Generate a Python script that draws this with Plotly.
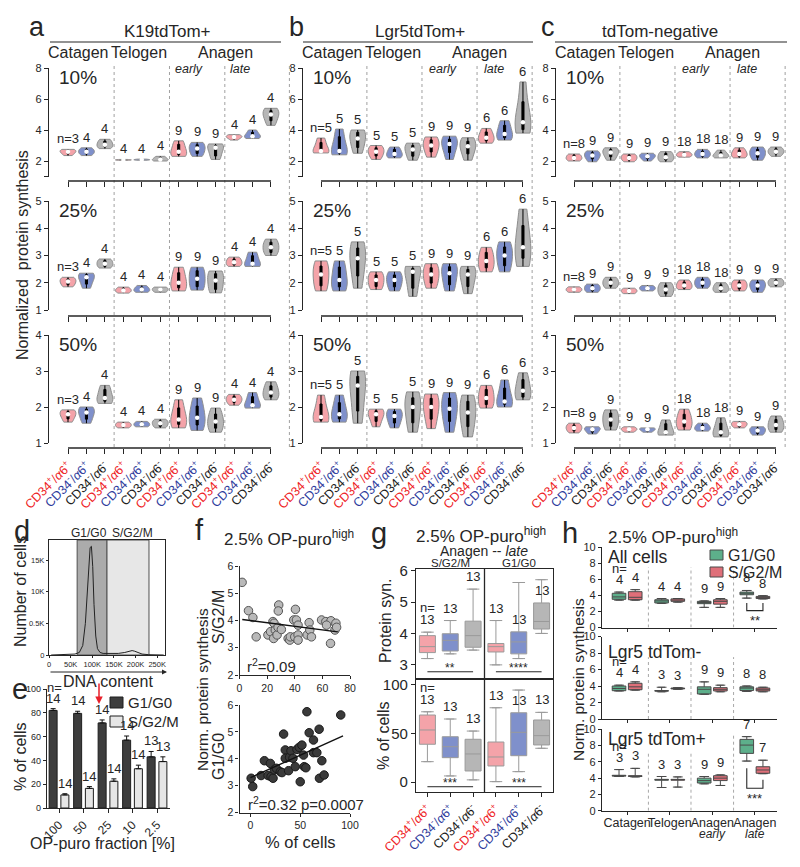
import plotly.graph_objects as go
import numpy as np

W, H = 800, 867
OFF = 8                      # page body margin of the html page
FW, FH = W - OFF, H - OFF    # figure size
FONT = "Liberation Sans, Arial, Helvetica, sans-serif"
INK = "#262626"

# ======================= DATA =======================
# Panels a-c: per violin values [min, q1, median, q3, max]
cell_labels = ["CD34+/a6+", "CD34-/a6+", "CD34-/a6-"] * 4
stage_names = ["Catagen", "Telogen", "Anagen early", "Anagen late"]

k19_10 = [[2.35, 2.5, 2.6, 2.68, 2.75], [2.35, 2.5, 2.6, 2.72, 2.85], [2.8, 2.95, 3.05, 3.25, 3.4],
          [2.04, 2.06, 2.07, 2.08, 2.1], [2.05, 2.07, 2.08, 2.1, 2.12], [2.0, 2.05, 2.1, 2.2, 2.3],
          [2.3, 2.45, 2.6, 3.0, 3.3], [2.3, 2.55, 2.8, 3.0, 3.2], [2.1, 2.4, 2.85, 2.95, 3.1],
          [3.35, 3.5, 3.55, 3.62, 3.7], [3.45, 3.55, 3.6, 3.8, 4.0], [4.3, 4.7, 5.0, 5.2, 5.4]]
k19_25 = [[1.85, 1.95, 2.05, 2.12, 2.2], [1.8, 2.0, 2.2, 2.28, 2.35], [2.54, 2.62, 2.7, 2.8, 2.87],
          [1.62, 1.68, 1.72, 1.78, 1.84], [1.65, 1.7, 1.75, 1.82, 1.9], [1.65, 1.7, 1.75, 1.8, 1.84],
          [1.7, 1.85, 2.0, 2.3, 2.57], [1.73, 1.9, 2.15, 2.4, 2.57], [1.63, 1.8, 2.08, 2.3, 2.43],
          [2.6, 2.68, 2.75, 2.85, 2.94], [2.6, 2.65, 2.7, 2.95, 3.12], [3.0, 3.15, 3.3, 3.45, 3.6]]
k19_50 = [[1.58, 1.7, 1.8, 1.86, 1.92], [1.55, 1.7, 1.85, 1.92, 2.0], [2.1, 2.18, 2.25, 2.45, 2.6],
          [1.42, 1.46, 1.5, 1.54, 1.58], [1.45, 1.48, 1.52, 1.56, 1.6], [1.42, 1.48, 1.55, 1.6, 1.66],
          [1.42, 1.55, 1.65, 1.9, 2.2], [1.35, 1.55, 1.7, 1.95, 2.25], [1.3, 1.45, 1.6, 1.75, 1.97],
          [2.05, 2.15, 2.2, 2.28, 2.35], [1.97, 2.02, 2.05, 2.25, 2.4], [2.2, 2.3, 2.4, 2.55, 2.7]]
k19_n = [3, 4, 4, 4, 4, 4, 9, 9, 9, 4, 4, 4]

lgr5_10 = [[2.52, 2.6, 2.65, 3.1, 3.48], [2.4, 2.55, 2.65, 3.4, 4.06], [2.5, 3.0, 3.45, 3.8, 4.0],
           [2.1, 2.4, 2.6, 2.8, 3.0], [2.2, 2.35, 2.45, 2.7, 2.9], [2.05, 2.4, 2.75, 2.95, 3.15],
           [2.25, 2.7, 3.0, 3.3, 3.55], [2.1, 2.7, 3.1, 3.35, 3.6], [2.05, 2.6, 2.95, 3.2, 3.5],
           [3.15, 3.35, 3.5, 3.8, 4.1], [3.35, 3.55, 3.75, 4.2, 4.6], [3.8, 4.1, 4.5, 5.4, 7.1]]
lgr5_25 = [[1.7, 1.95, 2.3, 2.55, 2.8], [1.7, 1.9, 2.1, 2.5, 2.8], [1.8, 2.4, 2.9, 3.2, 3.5],
           [1.75, 1.9, 2.1, 2.25, 2.4], [1.7, 1.9, 2.1, 2.25, 2.4], [1.5, 1.9, 2.4, 2.5, 2.6],
           [1.8, 2.05, 2.3, 2.5, 2.7], [1.7, 2.0, 2.35, 2.55, 2.7], [1.6, 1.95, 2.3, 2.45, 2.6],
           [2.4, 2.6, 2.8, 3.05, 3.3], [2.4, 2.7, 3.0, 3.25, 3.5], [2.6, 3.0, 3.3, 3.9, 4.7]]
lgr5_50 = [[1.58, 1.65, 1.72, 2.0, 2.33], [1.58, 1.7, 1.8, 2.05, 2.33], [1.55, 2.0, 2.6, 2.8, 3.0],
           [1.45, 1.65, 1.8, 1.88, 1.94], [1.42, 1.6, 1.75, 1.85, 1.94], [1.3, 1.65, 2.0, 2.2, 2.42],
           [1.4, 1.75, 2.0, 2.2, 2.36], [1.3, 1.7, 1.95, 2.2, 2.4], [1.17, 1.55, 1.85, 2.1, 2.33],
           [1.97, 2.1, 2.25, 2.45, 2.6], [2.0, 2.1, 2.15, 2.45, 2.75], [2.2, 2.3, 2.45, 2.7, 2.95]]
lgr5_n = [5, 5, 5, 5, 5, 5, 9, 9, 9, 6, 6, 6]

neg_10 = [[2.0, 2.12, 2.2, 2.35, 2.45], [1.95, 2.2, 2.35, 2.5, 2.65], [2.05, 2.35, 2.55, 2.7, 2.85],
          [1.95, 2.1, 2.2, 2.35, 2.45], [2.0, 2.2, 2.3, 2.4, 2.5], [1.95, 2.1, 2.25, 2.45, 2.6],
          [2.25, 2.35, 2.4, 2.5, 2.6], [2.2, 2.35, 2.45, 2.6, 2.75], [2.2, 2.3, 2.35, 2.5, 2.7],
          [2.2, 2.35, 2.45, 2.65, 2.85], [2.05, 2.3, 2.5, 2.7, 2.9], [2.3, 2.5, 2.6, 2.75, 2.9]]
neg_25 = [[1.65, 1.7, 1.75, 1.8, 1.85], [1.65, 1.72, 1.8, 1.88, 1.95], [1.8, 1.9, 2.0, 2.1, 2.2],
          [1.6, 1.65, 1.7, 1.75, 1.8], [1.7, 1.75, 1.8, 1.85, 1.9], [1.5, 1.62, 1.75, 1.88, 2.0],
          [1.75, 1.82, 1.9, 2.0, 2.1], [1.8, 1.9, 2.0, 2.1, 2.2], [1.65, 1.72, 1.8, 1.9, 2.0],
          [1.7, 1.8, 1.9, 2.0, 2.1], [1.65, 1.78, 1.9, 2.0, 2.1], [1.85, 1.92, 2.0, 2.08, 2.15]]
neg_50 = [[1.28, 1.36, 1.42, 1.48, 1.55], [1.25, 1.32, 1.38, 1.42, 1.45], [1.36, 1.5, 1.65, 1.8, 1.92],
          [1.3, 1.35, 1.38, 1.41, 1.45], [1.3, 1.34, 1.38, 1.4, 1.42], [1.22, 1.26, 1.3, 1.5, 1.64],
          [1.36, 1.48, 1.6, 1.75, 1.94], [1.33, 1.38, 1.42, 1.48, 1.55], [1.17, 1.22, 1.3, 1.5, 1.7],
          [1.42, 1.47, 1.52, 1.56, 1.6], [1.22, 1.28, 1.35, 1.4, 1.45], [1.3, 1.4, 1.5, 1.62, 1.75]]
neg_n = [8, 9, 9, 9, 9, 9, 18, 18, 18, 9, 9, 9]

# Panel d: DNA content histogram
dna_content = [5, 40, 60, 70, 78, 84, 88, 92, 95, 98, 101, 104, 108, 112, 118, 125, 140, 160,
               175, 185, 192, 198, 205, 215, 230, 250, 265]  # x 1000
cell_counts = [0, 0.05, 0.15, 0.4, 1.5, 5, 10, 15, 17, 17.2, 14, 8, 3, 1, 0.4, 0.25, 0.2, 0.25,
               0.4, 0.6, 0.7, 0.6, 0.4, 0.15, 0.05, 0.02, 0]  # x 1000

# Panel e
op_fraction = ["100", "50", "25", "10", "2.5"]
g1_pct = [82, 79.5, 71.5, 57, 43]
g1_err = [1.5, 1.8, 2.5, 3.5, 4.5]
sg2m_pct = [11, 16.5, 22.5, 33, 39]
sg2m_err = [1, 1.5, 2, 3, 4]
n_g1 = [14, 14, 14, 14, 13]
n_sg2m = [14, 14, 14, 14, 13]

# Panel f
f_sg_x = [1.9, 6.5, 9.7, 12.1, 20.6, 22.5, 24.2, 25.0, 25.9, 24.7, 27.2, 28.4, 28.1, 27.9, 30.3, 35.2,
          36.4, 36.8, 39.3, 40.5, 41.2, 40.0, 42.4, 42.4, 42.4, 49.0, 50.4, 50.9, 52.1, 59.4, 62.5,
          66.2, 63.0, 65.9, 69.1, 69.8, 70.3]
f_sg_y = [5.4, 4.36, 4.11, 3.4, 3.47, 3.59, 3.96, 3.9, 3.65, 3.34, 3.47, 4.57, 4.35, 3.75, 3.67, 3.34,
          3.28, 3.4, 4.02, 4.41, 4.02, 3.4, 3.83, 3.47, 3.28, 3.47, 3.92, 3.65, 3.4, 4.02, 3.96,
          3.99, 3.83, 3.16, 3.65, 3.9, 3.75]
f_g1_x = [0.7, 2.3, 10.7, 14, 17.7, 20, 20.7, 22.7, 24, 26, 30, 31.7, 33.3, 35, 35, 38.3, 39.3, 40.7,
          42.7, 45, 46.7, 49, 50, 51.7, 53.3, 54, 55.7, 56.7, 59, 63.3, 63.3, 66.7, 69, 69.3, 71.7,
          74, 90.7]
f_g1_y = [3.28, 2.97, 3.38, 3.93, 3.38, 3.83, 3.34, 3.28, 3.59, 3.65, 3.52, 3.49, 4.92, 4.33, 4.02,
          3.56, 4.06, 4.30, 4.02, 3.71, 4.35, 4.43, 3.15, 4.51, 4.14, 3.71, 3.67, 5.75, 4.97, 4.70,
          4.23, 4.23, 5.10, 3.28, 3.93, 3.40, 5.63]
fit_sg = [4.05, -0.0066]   # intercept, slope
fit_sg_span = [2, 71]
fit_g1 = [3.3, 0.0167]
fit_g1_span = [0, 93]

# Panel g: box stats [S/G2/M: pink, blue, gray, G1/G0: pink, blue, gray]
g_syn_lo = [3.2, 3.35, 3.47, 3.0, 3.2, 4.0]
g_syn_q1 = [3.39, 3.44, 3.56, 3.41, 3.35, 4.14]
g_syn_med = [3.58, 3.78, 3.93, 3.58, 3.73, 4.38]
g_syn_q3 = [3.93, 3.99, 4.39, 3.68, 4.05, 4.97]
g_syn_hi = [4.04, 4.41, 5.41, 4.41, 5.62, 5.71]
g_pct_lo = [21, 6.4, 2.4, 0.6, 10.8, 34.7]
g_pct_q1 = [38.8, 25.1, 11.5, 16.6, 27.1, 38.1]
g_pct_med = [53.4, 36.3, 28.9, 25.8, 51, 47.6]
g_pct_q3 = [68.7, 46.5, 43.9, 41.1, 71, 63.6]
g_pct_hi = [72, 64.6, 52.3, 76.1, 94.2, 71.4]
g_n = [13, 13, 13, 13, 13, 13]

# Panel h: [Catagen, Telogen, Anagen early, Anagen late]
h_stages = ["Catagen", "Telogen", "Anagen", "Anagen"]
h_substages = ["", "", "early", "late"]
h_all_g1 = dict(lo=[3.4, 3.0, 2.5, 3.65], q1=[3.5, 3.05, 2.96, 4.07], med=[3.8, 3.3, 3.1, 4.25],
                q3=[4.25, 3.45, 3.25, 4.4], hi=[4.4, 3.6, 3.3, 4.6], n=[4, 4, 9, 8])
h_all_sg = dict(lo=[3.4, 3.15, 2.5, 3.55], q1=[3.45, 3.25, 2.9, 3.6], med=[3.75, 3.4, 3.25, 3.75],
                q3=[4.45, 3.55, 3.45, 3.86], hi=[4.7, 3.6, 3.6, 3.95], n=[4, 4, 9, 8])
h_neg_g1 = dict(lo=[3.4, 3.3, 3.0, 3.35], q1=[3.43, 3.38, 3.03, 3.45], med=[3.7, 3.4, 3.6, 3.75],
                q3=[4.0, 3.45, 3.9, 3.9], hi=[4.1, 3.85, 4.5, 4.0], n=[4, 3, 9, 8])
h_neg_sg = dict(lo=[3.5, 3.6, 3.3, 3.3], q1=[3.55, 3.65, 3.4, 3.4], med=[3.9, 3.7, 3.6, 3.55],
                q3=[4.33, 3.75, 3.8, 3.75], hi=[4.5, 3.8, 4.1, 3.85], n=[4, 3, 9, 8])
h_pos_g1 = dict(lo=[4.2, 2.85, 3.3, 6.1], q1=[4.25, 3.75, 3.4, 7.04], med=[4.3, 3.8, 3.7, 8.06],
                q3=[4.35, 3.85, 4.0, 8.76], hi=[5.05, 4.2, 4.2, 9.1], n=[3, 3, 9, 7])
h_pos_sg = dict(lo=[4.15, 2.9, 3.1, 4.55], q1=[4.2, 3.75, 3.7, 4.6], med=[4.25, 3.8, 4.0, 5.0],
                q3=[4.3, 3.85, 4.3, 5.4], hi=[5.2, 4.15, 4.4, 6.2], n=[3, 3, 9, 7])

# ======================= STYLE / HELPERS =======================
PINK, BLUE, GRAY = "#f4a3a9", "#7f90cb", "#b6b6b6"
VCOL = [PINK, BLUE, GRAY]
GREEN_H, RED_H = "#5daf8b", "#df6f79"
LAB_COL = ["#ee1c25", "#2e3b9c", "#1a1a1a"]


def lab_html(k):
    s1 = "+" if k == 0 else "-"
    s2 = "-" if k == 2 else "+"
    return ("<span style='color:%s'>CD34<sup>%s</sup>/<i>α</i>6<sup>%s</sup></span>"
            % (LAB_COL[k], s1, s2))


def px(x):
    return (x - OFF) / FW


def py(y):
    return 1 - (y - OFF) / FH


fig = go.Figure()
layout = {}
annotations = []
shapes = []
count = [0]


def tf(size):
    return dict(family=FONT, size=size, color=INK)


def add_axes(xd, yd, xkw=None, ykw=None):
    count[0] += 1
    i = count[0]
    s = "" if i == 1 else str(i)
    xa = dict(domain=[px(xd[0]), px(xd[1])], anchor="y" + s, showgrid=False, zeroline=False,
              automargin=False, linecolor=INK, tickcolor=INK, linewidth=1.3, tickwidth=1.2,
              tickfont=tf(11))
    ya = dict(domain=[py(yd[1]), py(yd[0])], anchor="x" + s, showgrid=False, zeroline=False,
              automargin=False, linecolor=INK, tickcolor=INK, linewidth=1.3, tickwidth=1.2,
              tickfont=tf(11))
    xa.update(xkw or {})
    ya.update(ykw or {})
    layout["xaxis" + s] = xa
    layout["yaxis" + s] = ya
    return "x" + s, "y" + s


def ann(text, x, y, size=13, xanchor="center", yanchor="middle", angle=0, color=INK, **kw):
    annotations.append(dict(text=text, x=px(x), y=py(y), xref="paper", yref="paper",
                            showarrow=False, font=dict(family=FONT, size=size, color=color),
                            xanchor=xanchor, yanchor=yanchor, textangle=angle, **kw))


def dann(text, xr, yr, x, y, size=13, yanchor="bottom", yshift=0, xshift=0):
    annotations.append(dict(text=text, x=x, y=y, xref=xr, yref=yr, showarrow=False,
                            font=tf(size), xanchor="center", yanchor=yanchor,
                            yshift=yshift, xshift=xshift))


# ======================= PANELS a, b, c =======================
panels = [
    dict(rows=[k19_10, k19_25, k19_50], n=k19_n, t0=68, s=18.45, L=49, R=292,
         title="K19tdTom+", tcx=167, letter="a", lx=37, seps=[2.5, 5.5, 8.5, 12.0], hl=(50, 281)),
    dict(rows=[lgr5_10, lgr5_25, lgr5_50], n=lgr5_n, t0=321, s=18.36, L=303, R=537,
         title="Lgr5tdTom+", tcx=420, letter="b", lx=296, seps=[2.5, 5.5, 8.5, 11.5], hl=(303, 533)),
    dict(rows=[neg_10, neg_25, neg_50], n=neg_n, t0=574, s=18.36, L=556, R=790,
         title="tdTom-negative", tcx=660, letter="c", lx=548, seps=[2.5, 5.5, 8.5, 11.5], hl=(555, 787)),
]
rowspec = [
    dict(top=68, bot=176.5, rng=[1, 8], xpos=181, tv=[1, 2, 4, 6, 8], tt=["", "2", "4", "6", "8"],
         pct="10%", pcy=77),
    dict(top=201, bot=310, rng=[1, 5], xpos=316, tv=[1, 2, 3, 4, 5], tt=["1", "2", "3", "4", "5"],
         pct="25%", pcy=210),
    dict(top=335, bot=443, rng=[1, 4], xpos=448, tv=[1, 2, 3, 4], tt=["1", "2", "3", "4"],
         pct="50%", pcy=344),
]

for P in panels:
    r0 = (P["L"] - P["t0"]) / P["s"]
    r1 = (P["R"] - P["t0"]) / P["s"]
    first_xr = None
    for ri, (data, RS) in enumerate(zip(P["rows"], rowspec)):
        last = ri == 2
        xkw = dict(range=[r0, r1], anchor="free", position=py(RS["xpos"]), showline=False,
                   ticks="outside", ticklen=5, tickvals=list(range(12)),
                   showticklabels=last, tickangle=-45, tickfont=tf(12.5),
                   ticktext=[lab_html(k % 3) for k in range(12)])
        ykw = dict(range=RS["rng"], showline=True, ticks="outside", ticklen=4,
                   tickvals=RS["tv"], ticktext=RS["tt"], tickfont=tf(11))
        xr, yr = add_axes((P["L"], P["R"]), (RS["top"], RS["bot"]), xkw, ykw)
        if first_xr is None:
            first_xr = xr
        for j, vals in enumerate(data):
            fig.add_trace(go.Violin(
                x=[j] * len(vals), y=vals, xaxis=xr, yaxis=yr, fillcolor=VCOL[j % 3],
                line=dict(color="#8e8e8e", width=1), width=0.86, scalemode="width",
                spanmode="hard", points=False, opacity=1,
                box=dict(visible=True, width=0.13, fillcolor="black",
                         line=dict(color="black", width=1)),
                meanline=dict(visible=False), showlegend=False, hoverinfo="skip"))
            lab = ("n=%d" % P["n"][j]) if j == 0 else str(P["n"][j])
            dann(lab, xr, yr, j, max(vals), size=13, yshift=1)
        fig.add_trace(go.Scatter(x=list(range(12)), y=[float(np.median(v)) for v in data],
                                 xaxis=xr, yaxis=yr, mode="markers",
                                 marker=dict(color="white", size=4.5), showlegend=False,
                                 hoverinfo="skip"))
        # x axis baseline from first to last tick (Prism-style offset axis)
        shapes.append(dict(type="line", xref=xr, yref="paper", x0=0, x1=11,
                           y0=py(RS["xpos"]), y1=py(RS["xpos"]),
                           line=dict(color=INK, width=1.3)))
        ann(RS["pct"], P["L"] + 8, RS["pcy"], size=19, xanchor="left")
    for sx in P["seps"]:
        shapes.append(dict(type="line", xref=first_xr, yref="paper", x0=sx, x1=sx,
                           y0=py(447), y1=py(63), layer="below",
                           line=dict(color="#a0a0a0", width=1, dash="dot")))
    L = P["L"]
    ann(P["title"], P["tcx"], 32, size=17)
    ann(P["letter"], P["lx"], 27, size=27)
    shapes.append(dict(type="line", xref="paper", yref="paper", x0=px(P["hl"][0]),
                       x1=px(P["hl"][1]), y0=py(42), y1=py(42), line=dict(color=INK, width=1.2)))
    ann("Catagen", L + 29, 53, size=16)
    ann("Telogen", L + 90, 53, size=16)
    ann("Anagen", L + 176, 53, size=16)
    ann("<i>early</i>", L + 140, 69, size=12.5)
    ann("<i>late</i>", L + 191, 69, size=12.5)

ann("Normalized  protein synthesis", 22, 255, size=16, angle=-90)

# ======================= PANEL d =======================
xd, yd = add_axes((49, 165), (540, 655),
                  dict(range=[0, 268], showline=True, mirror=True, ticks="outside", ticklen=2,
                       tickvals=[0, 50, 100, 150, 200, 250], tickangle=0,
                       ticktext=["0", "50K", "100K", "150K", "200K", "250K"], tickfont=tf(7.5)),
                  dict(range=[0, 18.2], showline=True, mirror=True, ticks="outside", ticklen=2,
                       tickvals=[0, 5, 10, 15], ticktext=["0", "0.5K", "10K", "15K"],
                       tickfont=tf(7.5)))
shapes.append(dict(type="rect", xref=xd, yref=yd, x0=65, x1=134, y0=0, y1=18.2, layer="below",
                   fillcolor="#ababab", line=dict(color="#505050", width=1)))
shapes.append(dict(type="rect", xref=xd, yref=yd, x0=134, x1=231, y0=0, y1=18.2, layer="below",
                   fillcolor="#e7e7e7", line=dict(color="#505050", width=1)))
fig.add_trace(go.Scatter(x=dna_content, y=cell_counts, xaxis=xd, yaxis=yd, mode="lines",
                         line=dict(color="#222", width=1), showlegend=False, hoverinfo="skip"))
ann("G1/G0", 89, 533, size=12)
ann("S/G2/M", 132, 533, size=12)
ann("d", 22, 531, size=29)
ann("Number of cells", 20, 592, size=16, angle=-90)
ann("DNA content", 108, 681, size=16)
annotations.append(dict(text="", x=px(167), y=py(672), ax=-118, ay=0, xref="paper",
                        yref="paper", showarrow=True,
                        arrowhead=2, arrowsize=1, arrowwidth=1, arrowcolor=INK))

# ======================= PANEL e =======================
xe, ye = add_axes((47, 170), (689, 808),
                  dict(range=[-0.49, 4.53], showline=True, ticks="outside", ticklen=4,
                       tickvals=list(range(5)), ticktext=op_fraction, tickangle=-45,
                       tickfont=tf(12)),
                  dict(range=[0, 100], showline=True, ticks="outside", ticklen=3,
                       tickvals=[0, 20, 40, 60, 80, 100], tickfont=tf(9)))
fig.add_trace(go.Bar(x=list(range(5)), y=g1_pct, xaxis=xe, yaxis=ye, name="G1/G0",
                     marker=dict(color="#3d3d3d", line=dict(color="#1e1e1e", width=1)),
                     error_y=dict(type="data", array=g1_err, arrayminus=[0] * 5, symmetric=False,
                                  color="#111", thickness=1, width=2.5),
                     showlegend=False, hoverinfo="skip"))
fig.add_trace(go.Bar(x=list(range(5)), y=sg2m_pct, xaxis=xe, yaxis=ye, name="S/G2/M",
                     marker=dict(color="#e6e6e6", line=dict(color="#1e1e1e", width=1)),
                     error_y=dict(type="data", array=sg2m_err, arrayminus=[0] * 5, symmetric=False,
                                  color="#111", thickness=1, width=2.5),
                     showlegend=False, hoverinfo="skip"))
for i in range(5):
    dann(str(n_g1[i]), xe, ye, i - 0.24, g1_pct[i] + g1_err[i], size=13, yshift=1)
    dann(str(n_sg2m[i]), xe, ye, i + 0.24, sg2m_pct[i] + sg2m_err[i], size=13, yshift=1)
dann("n=", xe, ye, -0.2, g1_pct[0] + g1_err[0], size=13, yshift=12)
shapes.append(dict(type="rect", xref="paper", yref="paper", x0=px(110), x1=px(123), y0=py(708),
                   y1=py(697), fillcolor="#3d3d3d", line=dict(color="#1e1e1e", width=1)))
shapes.append(dict(type="rect", xref="paper", yref="paper", x0=px(110), x1=px(123), y0=py(727),
                   y1=py(716), fillcolor="#e6e6e6", line=dict(color="#1e1e1e", width=1)))
ann("G1/G0", 126, 702.5, size=15, xanchor="left")
ann("S/G2/M", 126, 721.5, size=15, xanchor="left")
annotations.append(dict(text="", x=px(99), y=py(704), xref="paper", yref="paper", ax=0, ay=-22,
                        showarrow=True, arrowhead=2, arrowsize=1, arrowwidth=1.5,
                        arrowcolor="#e8202a"))
ann("e", 20, 689, size=29)
ann("% of cells", 20, 757, size=16, angle=-90)
ann("OP-puro fraction [%]", 102, 843, size=16)

# ======================= PANEL f =======================
xf1, yf1 = add_axes((239.5, 350), (566, 675),
                    dict(range=[0, 80], showline=True, ticks="outside", ticklen=3,
                         tickvals=[0, 20, 40, 60, 80], tickfont=tf(10.5)),
                    dict(range=[2, 6], showline=True, ticks="outside", ticklen=3,
                         tickvals=[2, 3, 4, 5, 6], tickfont=tf(10.5)))
xf2, yf2 = add_axes((239.5, 350), (705, 812.7),
                    dict(range=[-11, 100], showline=True, ticks="outside", ticklen=3,
                         tickvals=[0, 50, 100], tickfont=tf(10.5)),
                    dict(range=[2, 6], showline=True, ticks="outside", ticklen=3,
                         tickvals=[2, 3, 4, 5, 6], tickfont=tf(10.5)))
fig.add_trace(go.Scatter(x=f_sg_x, y=f_sg_y, xaxis=xf1, yaxis=yf1, mode="markers",
                         marker=dict(color="#b9b9b9", size=8.5, line=dict(color="#555", width=1)),
                         showlegend=False, hoverinfo="skip"))
fig.add_trace(go.Scatter(x=fit_sg_span, y=[fit_sg[0] + fit_sg[1] * v for v in fit_sg_span],
                         xaxis=xf1, yaxis=yf1, mode="lines", line=dict(color="#111", width=1.4),
                         showlegend=False, hoverinfo="skip"))
fig.add_trace(go.Scatter(x=f_g1_x, y=f_g1_y, xaxis=xf2, yaxis=yf2, mode="markers",
                         marker=dict(color="#3a3a3a", size=8.5, line=dict(color="#1a1a1a", width=1)),
                         showlegend=False, hoverinfo="skip"))
fig.add_trace(go.Scatter(x=fit_g1_span, y=[fit_g1[0] + fit_g1[1] * v for v in fit_g1_span],
                         xaxis=xf2, yaxis=yf2, mode="lines", line=dict(color="#111", width=1.4),
                         showlegend=False, hoverinfo="skip"))
ann("f", 199, 530, size=29)
ann("2.5% OP-puro<sup>high</sup>", 222, 538, size=17, xanchor="left")
ann("r<sup>2</sup>=0.09", 245, 665, size=15, xanchor="left")
ann("r<sup>2</sup>=0.32 p=0.0007", 246, 803, size=15, xanchor="left")
ann("S/G2/M", 218, 617, size=16, angle=-90)
ann("G1/G0", 218, 757, size=16, angle=-90)
ann("Norm. protein synthesis", 202, 690, size=15.5, angle=-90)
ann("% of cells", 300, 842, size=16.5)

# ======================= PANEL g =======================
gcol = [PINK, BLUE, GRAY, PINK, BLUE, GRAY]
xg1, yg1 = add_axes((416, 553), (569, 679),
                    dict(range=[-0.5, 5.5], showline=True, mirror=True, ticks="",
                         showticklabels=False),
                    dict(range=[2.55, 6.05], showline=True, mirror=True, ticks="outside",
                         ticklen=4, tickvals=[3, 4, 5, 6], tickfont=tf(15)))
xg2, yg2 = add_axes((416, 553), (679, 792),
                    dict(range=[-0.5, 5.5], showline=True, mirror=True, ticks="outside",
                         ticklen=4, tickvals=list(range(6)),
                         ticktext=[lab_html(k % 3) for k in range(6)], tickangle=-45,
                         tickfont=tf(12.5)),
                    dict(range=[-10, 105.5], showline=True, mirror=True, ticks="outside",
                         ticklen=4, tickvals=[0, 50, 100], tickfont=tf(15)))


def add_box(xr, yr, pos, lo, q1, med, q3, hi, fill, width, lc, cap):
    fig.add_trace(go.Box(x=[pos], q1=[q1], median=[med], q3=[q3], lowerfence=[lo],
                         upperfence=[hi], xaxis=xr, yaxis=yr, fillcolor=fill,
                         line=dict(color=lc, width=1), width=width, boxpoints=False,
                         showlegend=False, hoverinfo="skip"))
    fig.add_trace(go.Scatter(x=[pos, pos], y=[lo, hi], xaxis=xr, yaxis=yr, mode="markers",
                             marker=dict(symbol="line-ew", size=cap, color=lc,
                                         line=dict(color=lc, width=1)),
                             showlegend=False, hoverinfo="skip"))


for k in range(6):
    add_box(xg1, yg1, k, g_syn_lo[k], g_syn_q1[k], g_syn_med[k], g_syn_q3[k], g_syn_hi[k],
            gcol[k], 0.7, "#9a9a9a", 9)
    add_box(xg2, yg2, k, g_pct_lo[k], g_pct_q1[k], g_pct_med[k], g_pct_q3[k], g_pct_hi[k],
            gcol[k], 0.7, "#9a9a9a", 9)
    # n labels sit above the whisker, except where the reference puts them on the box top
    ytop = g_syn_q3[k] if k in (4, 5) else g_syn_hi[k]
    ybot = g_pct_q3[k] if k == 4 else g_pct_hi[k]
    dann(str(g_n[k]), xg1, yg1, k, ytop, size=13, yshift=3)
    dann(str(g_n[k]), xg2, yg2, k, ybot, size=13, yshift=3)
dann("n=", xg1, yg1, 0, g_syn_hi[0], size=13, yshift=15)
dann("n=", xg2, yg2, 0, g_pct_hi[0], size=13, yshift=15)
shapes.append(dict(type="line", xref=xg1, yref="paper", x0=2.5, x1=2.5, y0=py(792), y1=py(569),
                   line=dict(color=INK, width=1.3)))
for (xr, yr, yv, stars) in [(xg1, yg1, 2.78, ["**", "****"]), (xg2, yg2, -4.6, ["***", "***"])]:
    for h_i, x0 in enumerate([0, 3]):
        shapes.append(dict(type="line", xref=xr, yref=yr, x0=x0, x1=x0 + 2, y0=yv, y1=yv,
                           line=dict(color=INK, width=1)))
        dann(stars[h_i], xr, yr, x0 + 1, yv, size=12, yshift=-5)
ann("g", 379, 533, size=29)
ann("2.5% OP-puro<sup>high</sup>", 481, 535, size=17)
ann("Anagen -- <i>late</i>", 484, 551, size=14)
ann("S/G2/M", 450, 563, size=11.5)
ann("G1/G0", 519, 563, size=11.5)
ann("Protein syn.", 385, 621, size=16, angle=-90)
ann("% of cells", 383, 736, size=16, angle=-90)

# ======================= PANEL h =======================
h_rows = [
    dict(top=547, bot=627.5, g1=h_all_g1, sg=h_all_sg, label="All cells", ly=557,
         sep_top=[7.5, 7.5, 7.5]),
    dict(top=636.5, bot=719, g1=h_neg_g1, sg=h_neg_sg, label="Lgr5 tdTom-", ly=652,
         sep_top=[7.5, 7.5, 7.5]),
    dict(top=729.3, bot=810.7, g1=h_pos_g1, sg=h_pos_sg, label="Lgr5 tdTom+", ly=739,
         sep_top=[7.0, 7.0, 9.4]),
]
h_axes = []
for ri, HR in enumerate(h_rows):
    last = ri == 2
    xr, yr = add_axes((602, 777), (HR["top"], HR["bot"]),
                      dict(range=[-0.59, 3.52], showline=True, ticks="outside", ticklen=3,
                           tickvals=[0, 1, 2, 3], ticktext=h_stages, showticklabels=last,
                           tickangle=0, tickfont=tf(12.5), ticklabelstandoff=-3),
                      dict(range=[0, 10], showline=True, ticks="outside", ticklen=3,
                           tickvals=[0, 2, 4, 6, 8, 10], tickfont=tf(11)))
    h_axes.append((xr, yr))
    for gi in range(4):
        for dct, off, col in [(HR["g1"], -0.19, GREEN_H), (HR["sg"], 0.19, RED_H)]:
            add_box(xr, yr, gi + off, dct["lo"][gi], dct["q1"][gi], dct["med"][gi],
                    dct["q3"][gi], dct["hi"][gi], col, 0.32, "#4a4a4a", 7)
            dann(str(dct["n"][gi]), xr, yr, gi + off, dct["hi"][gi], size=13, yshift=3)
    dann("n=", xr, yr, -0.19, HR["g1"]["hi"][0], size=13, yshift=14)
    for k, sx in enumerate([0.5, 1.5, 2.5]):
        shapes.append(dict(type="line", xref=xr, yref=yr, x0=sx, x1=sx, y0=0,
                           y1=HR["sep_top"][k], layer="below",
                           line=dict(color="#a8a8a8", width=1, dash="dot")))
    ann(HR["label"], 606, HR["ly"], size=17.5, xanchor="left")
    if last:
        for gi, sub in enumerate(h_substages):
            if sub:
                annotations.append(dict(text="<i>%s</i>" % sub, x=gi, y=py(834), xref=xr,
                                        yref="paper", showarrow=False, font=tf(12),
                                        xanchor="center", yanchor="middle"))

# significance brackets in h
for (xr, yr), (ytop_l, ytop_r, ybar, ystar, stars) in zip(
        [h_axes[0], h_axes[2]], [(3.05, 3.05, 2.1, 0.9, "**"), (5.2, 3.8, 2.75, 1.5, "***")]):
    shapes.append(dict(type="path", xref=xr, yref=yr,
                       path="M %f %f L %f %f L %f %f L %f %f" % (2.81, ytop_l, 2.81, ybar,
                                                                 3.19, ybar, 3.19, ytop_r),
                       line=dict(color=INK, width=1.1)))
    dann(stars, xr, yr, 3.0, ystar, size=13, yanchor="middle")

shapes.append(dict(type="rect", xref="paper", yref="paper", x0=px(710), x1=px(723), y0=py(560),
                   y1=py(550), fillcolor=GREEN_H, line=dict(color="#4a4a4a", width=1)))
shapes.append(dict(type="rect", xref="paper", yref="paper", x0=px(710), x1=px(723), y0=py(577),
                   y1=py(567), fillcolor=RED_H, line=dict(color="#4a4a4a", width=1)))
ann("G1/G0", 726, 555, size=16, xanchor="left")
ann("S/G2/M", 726, 572, size=16, xanchor="left")
ann("h", 570, 533, size=29)
ann("2.5% OP-puro<sup>high</sup>", 606, 536, size=17, xanchor="left")
ann("Norm. protein synthesis", 578, 680, size=15.5, angle=-90)

# ======================= LAYOUT =======================
layout.update(dict(
    width=FW, height=FH, margin=dict(l=0, r=0, t=0, b=0, pad=0, autoexpand=False),
    paper_bgcolor="white", plot_bgcolor="rgba(0,0,0,0)",
    showlegend=False, violinmode="overlay", boxmode="overlay",
    barmode="group", bargap=0.04, bargroupgap=0.32,
    font=dict(family=FONT, color=INK),
    annotations=annotations, shapes=shapes,
))
fig.update_layout(**layout)
fig.write_html("out.html")
